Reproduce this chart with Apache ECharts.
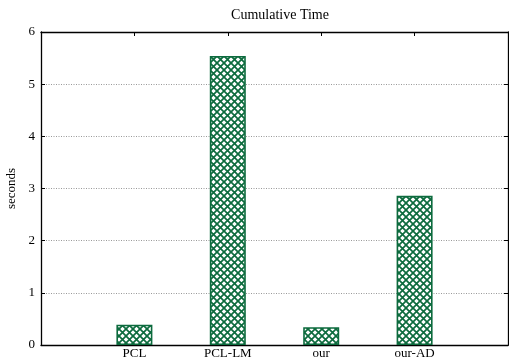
<!DOCTYPE html>
<html>
<head>
<meta charset="utf-8">
<script src="https://cdn.jsdelivr.net/npm/echarts@6/dist/echarts.min.js"></script>
<style>
  html, body { margin: 0; padding: 0; background: #fff; }
  #chart { width: 509px; height: 364px; }
</style>
</head>
<body>
<div id="chart"></div>
<script>
// Cumulative run time per method (seconds)
const categories = ['', 'PCL', 'PCL-LM', 'our', 'our-AD', ''];
const seconds = [null, 0.39, 5.54, 0.34, 2.86, null];
const yTicks = [0, 1, 2, 3, 4, 5, 6];

const green = '#0d6b3e';
const serif = '"Liberation Serif", "DejaVu Serif", serif';

// Cross-hatch fill for the bars
function hatch() {
  const s = 7;
  const c = document.createElement('canvas');
  c.width = s; c.height = s;
  const g = c.getContext('2d');
  g.fillStyle = '#fff';
  g.fillRect(0, 0, s, s);
  g.strokeStyle = green;
  g.lineWidth = 1.7;
  g.beginPath();
  g.moveTo(-1, -1); g.lineTo(s + 1, s + 1);
  g.moveTo(-1, s + 1); g.lineTo(s + 1, -1);
  g.stroke();
  return c;
}

const chart = echarts.init(document.getElementById('chart'), null, { renderer: 'canvas' });
chart.setOption({
  animation: false,
  title: {
    text: 'Cumulative Time',
    left: 275, top: 3, textAlign: 'center',
    textStyle: { fontFamily: serif, fontSize: 14, fontWeight: 'normal', color: '#000' }
  },
  grid: { left: 41, right: 1, top: 32, bottom: 19, containLabel: false, outerBoundsMode: 'none' },
  xAxis: [{
    type: 'category',
    data: categories,
    boundaryGap: false,
    axisLine: { lineStyle: { color: '#000', width: 1.3 } },
    axisTick: { show: false },
    axisLabel: { fontFamily: serif, fontSize: 13, color: '#000', margin: 2 },
    splitLine: { show: false }
  }, {
    type: 'category',
    data: categories,
    boundaryGap: false,
    position: 'top',
    axisLine: { show: true, onZero: false, lineStyle: { color: '#000', width: 1.3 } },
    axisTick: { show: true, inside: true, length: 4, lineStyle: { color: '#000' },
      interval: function (i) { return i > 0 && i < categories.length - 1; } },
    axisLabel: { show: false }
  }],
  yAxis: [{
    type: 'value',
    min: 0, max: 6, interval: 1,
    name: 'seconds',
    nameLocation: 'middle',
    nameGap: 20,
    nameRotate: 90,
    nameTextStyle: { fontFamily: serif, fontSize: 13, color: '#000' },
    axisLine: { show: true, lineStyle: { color: '#000', width: 1.3 } },
    axisTick: { show: true, inside: true, length: 4, lineStyle: { color: '#000' } },
    axisLabel: { fontFamily: serif, fontSize: 13, color: '#000', margin: 6,
      formatter: function (v) { return yTicks.indexOf(v) >= 0 ? String(v) : ''; } },
    splitLine: { show: true, lineStyle: { color: '#999', type: [1, 1.5], width: 1 } }
  }, {
    type: 'value',
    min: 0, max: 6, interval: 1,
    position: 'right',
    axisLine: { show: true, lineStyle: { color: '#000', width: 1.3 } },
    axisTick: { show: true, inside: true, length: 4, lineStyle: { color: '#000' } },
    axisLabel: { show: false },
    splitLine: { show: false }
  }],
  series: [{
    type: 'bar',
    data: seconds,
    barWidth: 36,
    itemStyle: {
      color: { image: hatch(), repeat: 'repeat' },
      borderColor: green,
      borderWidth: 1.6
    }
  }]
});
</script>
</body>
</html>
